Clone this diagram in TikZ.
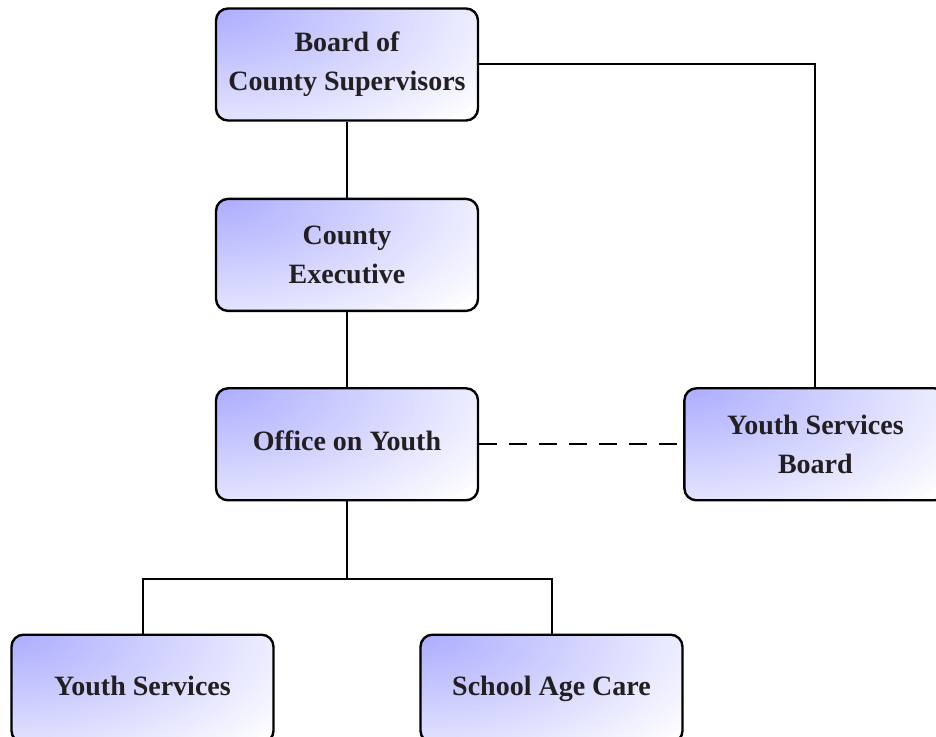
\documentclass[tikz,border=0pt]{standalone}
\usepackage{fontspec}
\setmainfont{Liberation Serif}
\usetikzlibrary{positioning}
\definecolor{unitblue}{RGB}{172,172,255}
\definecolor{unitink}{RGB}{35,31,32}
\pgfdeclareradialshading{unitglow}{\pgfpointorigin}{color(0bp)=(unitblue); color(26bp)=(white); color(50bp)=(white)}

\begin{document}
\begin{tikzpicture}[
  x=1pt, y=1pt,
  unit/.style={rectangle, rounded corners=12pt, draw=black, line width=2.4pt, fill=white,
    path picture={\shade[shading=unitglow] (path picture bounding box.north west) ellipse [x radius=320pt, y radius=160pt];},
    minimum width=262pt, minimum height=112pt, align=center, text=unitink, font=\fontsize{28}{39}\selectfont\bfseries},
  oneline/.style={text height=19pt, text depth=6pt},
  link/.style={line width=2pt},
  advisory/.style={line width=2pt, dash pattern=on 18pt off 12pt}
]
\useasboundingbox (0,0) rectangle (936,736);

% Chain of command, top to bottom.
\node[unit] (Board) at (347,671.5) {Board of\\County Supervisors};
\node[unit, below=76pt of Board] (Exec) {County\\Executive};
\node[unit, oneline, below=75pt of Exec] (Office) {Office on Youth};

% Advisory board to the right.
\node[unit, right=204pt of Office] (YSBoard) {Youth Services\\Board};

% Divisions under the office.
\node[unit, oneline, minimum height=108pt, below=132pt of Office, xshift=-204.5pt] (YouthSvc) {Youth Services};
\node[unit, oneline, minimum height=108pt, below=132pt of Office, xshift=204.5pt] (SchoolCare) {School Age Care};
\coordinate[below=78pt of Office.south] (Branch);

% Reporting lines.
\draw[link] (Board) -- (Exec);
\draw[link] (Exec) -- (Office);
\draw[link] (Board.east) -| (YSBoard.north);
\draw[link] (Office.south) -- (Branch);
\draw[link] (YouthSvc.north) |- (Branch) -| (SchoolCare.north);

% Advisory relation.
\draw[advisory] (Office.east) -- (YSBoard.west);

\end{tikzpicture}
\end{document}
